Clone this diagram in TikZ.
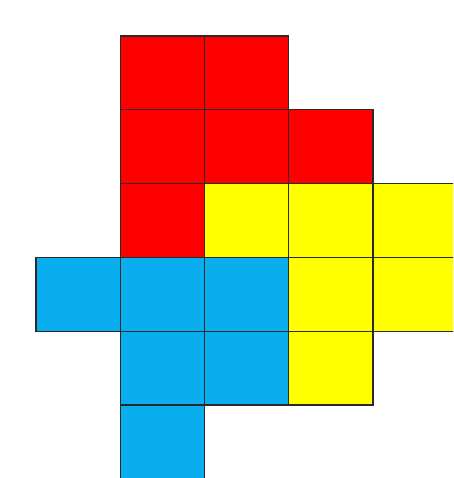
\documentclass[tikz,border=0pt]{standalone}
\definecolor{cred}{HTML}{FF0000}
\definecolor{cyel}{HTML}{FFFF00}
\definecolor{cblu}{HTML}{0AAEEF}
\definecolor{cline}{HTML}{2A2A2A}
\tikzset{cell/.style={draw=cline,line width=1.3pt}}
\begin{document}
\begin{tikzpicture}[x=1pt,y=-1pt]
\useasboundingbox (0,0) rectangle (453,478);
\clip (0,0) rectangle (453,478);
\fill[white] (0,0) rectangle (453,478);
\def\cw{84.25}\def\ch{73.8}
\foreach \c/\r/\col in {1/0/cred,2/0/cred,1/1/cred,2/1/cred,3/1/cred,1/2/cred,
  2/2/cyel,3/2/cyel,4/2/cyel,3/3/cyel,4/3/cyel,3/4/cyel,
  0/3/cblu,1/3/cblu,2/3/cblu,1/4/cblu,2/4/cblu,1/5/cblu}{
  \filldraw[cell,fill=\col] ({36+\c*\cw},{36+\r*\ch}) rectangle ({36+(\c+1)*\cw},{36+(\r+1)*\ch});
}
\end{tikzpicture}
\end{document}
